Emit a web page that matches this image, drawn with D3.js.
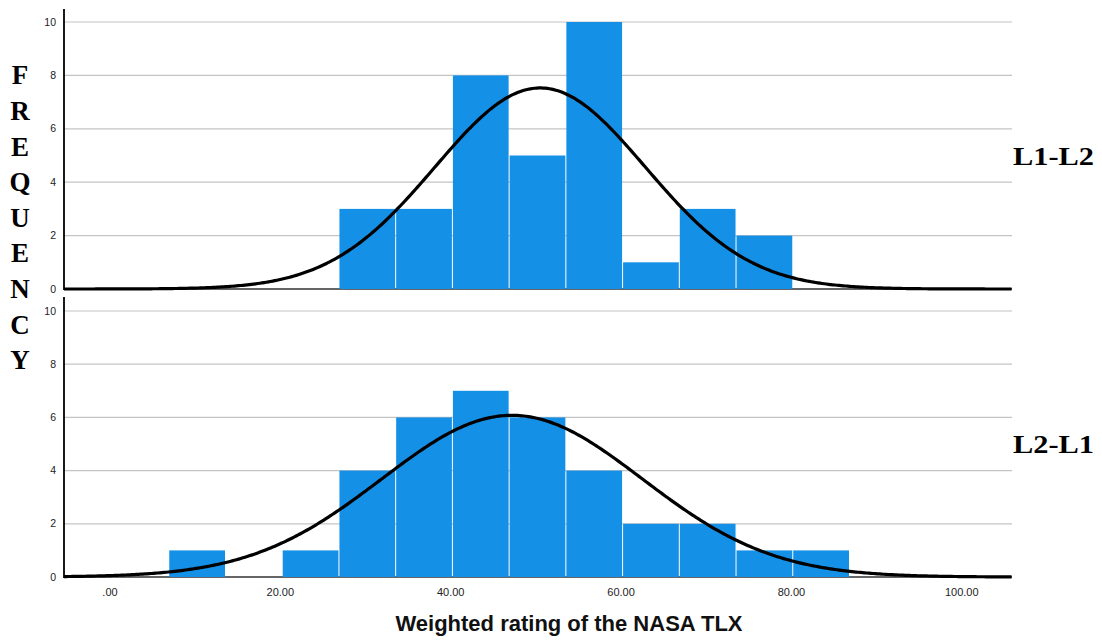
<!DOCTYPE html>
<html>
<head>
<meta charset="utf-8">
<script src="https://cdn.jsdelivr.net/npm/d3@7"></script>
<style>
  html, body { margin: 0; padding: 0; background: #fff; }
  svg { display: block; }
</style>
</head>
<body>
<svg id="chart" width="1102" height="644"></svg>
<script>
// Histogram bins (weighted NASA TLX score), shared by both panels
const binStart = 6.9;
const binWidth = 6.66;
const binCount = 12;

// Frequencies per bin for each ordering group
const countsL1L2 = [0, 0, 0, 3, 3, 8, 5, 10, 1, 3, 2, 0];
const countsL2L1 = [1, 0, 1, 4, 6, 7, 6, 4, 2, 2, 1, 1];

// Fitted normal curve parameters per group
const groupNames = ["L1-L2", "L2-L1"];
const groupMeans = [50.5, 47.2];
const groupSDs = [12.35, 15.3];

const xTicks = [0, 20, 40, 60, 80, 100];
const yTicks = [0, 2, 4, 6, 8, 10];
const axisTitle = "Weighted rating of the NASA TLX";
const sideTitle = "FREQUENCY";

const svg = d3.select("#chart");
const barColor = "#1490e6";

const x = d3.scaleLinear().domain([-5.4, 105.9]).range([64, 1012]);

const panels = [
  { name: groupNames[0], counts: countsL1L2, mean: groupMeans[0], sd: groupSDs[0], top: 9, y: d3.scaleLinear().domain([0, 10]).range([289, 22]) },
  { name: groupNames[1], counts: countsL2L1, mean: groupMeans[1], sd: groupSDs[1], top: 297, y: d3.scaleLinear().domain([0, 10]).range([577, 311]) }
];

const bins = d3.range(binCount).map(i => ({ x0: binStart + i * binWidth, x1: binStart + (i + 1) * binWidth }));

panels.forEach(p => {
  const g = svg.append("g");
  const y = p.y;
  const n = d3.sum(p.counts);

  // horizontal grid lines
  g.selectAll("line.grid").data(yTicks.filter(t => t > 0)).join("line")
    .attr("x1", x.range()[0]).attr("x2", x.range()[1])
    .attr("y1", d => y(d)).attr("y2", d => y(d))
    .attr("stroke", "#c4c4c4").attr("stroke-width", 1.2);

  // y tick labels
  g.selectAll("text.yt").data(yTicks).join("text")
    .attr("x", 56).attr("y", d => y(d))
    .attr("dy", "0.35em")
    .attr("text-anchor", "end")
    .attr("font-family", "Liberation Sans, Arial, sans-serif")
    .attr("font-size", 10.5)
    .attr("fill", "#222")
    .text(d => d);

  // baseline
  g.append("line")
    .attr("x1", x.range()[0]).attr("x2", x.range()[1])
    .attr("y1", y(0)).attr("y2", y(0))
    .attr("stroke", "#333").attr("stroke-width", 1.6);

  // bars
  g.selectAll("rect.bar").data(bins.map((b, i) => ({ ...b, c: p.counts[i] })).filter(d => d.c > 0)).join("rect")
    .attr("x", d => x(d.x0) + 0.5)
    .attr("width", d => x(d.x1) - x(d.x0) - 1)
    .attr("y", d => y(d.c))
    .attr("height", d => y(0) - y(d.c))
    .attr("fill", barColor);

  // fitted normal curve, scaled to counts
  const curve = d3.range(x.domain()[0], x.domain()[1] + 0.01, 0.25).map(v => {
    const z = (v - p.mean) / p.sd;
    return [v, n * binWidth / (p.sd * Math.sqrt(2 * Math.PI)) * Math.exp(-0.5 * z * z)];
  });
  g.append("path")
    .datum(curve)
    .attr("fill", "none")
    .attr("stroke", "#000")
    .attr("stroke-width", 3.2)
    .attr("d", d3.line().x(d => x(d[0])).y(d => y(d[1])));

  // left axis line
  g.append("line")
    .attr("x1", x.range()[0]).attr("x2", x.range()[0])
    .attr("y1", p.top).attr("y2", y(0) + 1)
    .attr("stroke", "#000").attr("stroke-width", 1.8);

  // group label
  g.append("text")
    .attr("x", 1013).attr("y", (y(4) + y(6)) / 2)
    .attr("dy", "0.35em")
    .attr("font-family", "Liberation Serif, Times New Roman, serif")
    .attr("font-weight", "bold")
    .attr("font-size", 26)
    .attr("textLength", 81)
    .attr("lengthAdjust", "spacingAndGlyphs")
    .attr("fill", "#000")
    .text(p.name);
});

// x tick labels
svg.append("g").selectAll("text").data(xTicks).join("text")
  .attr("x", d => x(d)).attr("y", 592)
  .attr("dy", "0.35em")
  .attr("text-anchor", "middle")
  .attr("font-family", "Liberation Sans, Arial, sans-serif")
  .attr("font-size", 11)
  .attr("fill", "#222")
  .text(d => d === 0 ? ".00" : d.toFixed(2));

// x axis title
svg.append("text")
  .attr("x", 569).attr("y", 631)
  .attr("text-anchor", "middle")
  .attr("font-family", "Liberation Sans, Arial, sans-serif")
  .attr("font-weight", "bold")
  .attr("font-size", 22)
  .attr("fill", "#111")
  .text(axisTitle);

// stacked vertical y axis title
svg.append("g").selectAll("text").data(sideTitle.split("")).join("text")
  .attr("x", 20).attr("y", (d, i) => 75 + i * 35.6)
  .attr("dy", "0.35em")
  .attr("text-anchor", "middle")
  .attr("font-family", "Liberation Serif, Times New Roman, serif")
  .attr("font-weight", "bold")
  .attr("font-size", 27)
  .attr("fill", "#000")
  .text(d => d);
</script>
</body>
</html>
